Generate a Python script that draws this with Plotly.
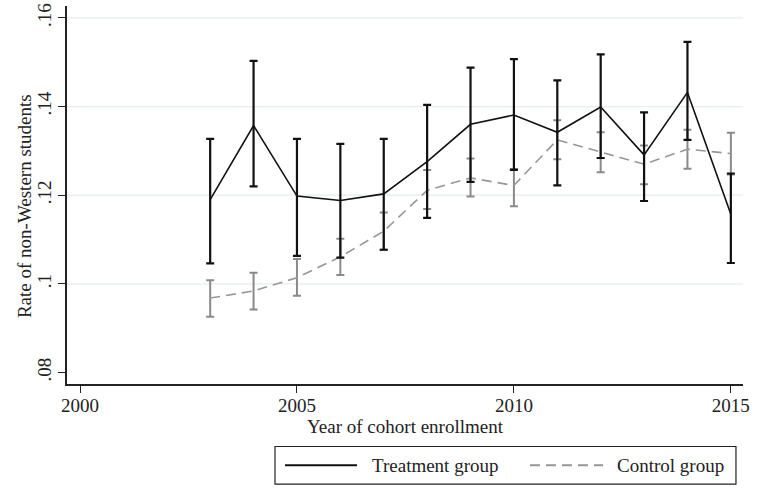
import plotly.graph_objects as go

years = [2003, 2004, 2005, 2006, 2007, 2008, 2009, 2010, 2011, 2012, 2013, 2014, 2015]

treat_mean = [0.1190, 0.1357, 0.1198, 0.1188, 0.1203, 0.1276, 0.1360, 0.1381, 0.1342, 0.1399, 0.1291, 0.1432, 0.1157]
treat_hi   = [0.1327, 0.1503, 0.1327, 0.1316, 0.1327, 0.1404, 0.1488, 0.1507, 0.1459, 0.1518, 0.1387, 0.1546, 0.1249]
treat_lo   = [0.1046, 0.1220, 0.1063, 0.1059, 0.1077, 0.1149, 0.1230, 0.1257, 0.1222, 0.1284, 0.1187, 0.1325, 0.1047]

ctrl_mean = [0.0968, 0.0984, 0.1014, 0.1061, 0.1119, 0.1211, 0.1239, 0.1222, 0.1325, 0.1297, 0.1270, 0.1304, 0.1294]
ctrl_hi   = [0.1008, 0.1025, 0.1056, 0.1102, 0.1161, 0.1257, 0.1283, 0.1259, 0.1369, 0.1342, 0.1312, 0.1348, 0.1341]
ctrl_lo   = [0.0926, 0.0942, 0.0973, 0.1020, 0.1077, 0.1169, 0.1197, 0.1175, 0.1281, 0.1252, 0.1225, 0.1260, 0.1247]

y_ticks = [0.08, 0.10, 0.12, 0.14, 0.16]
y_ticktext = [".08", ".1", ".12", ".14", ".16"]
grid_vals = [0.10, 0.12, 0.14, 0.16]
x_ticks = [2000, 2005, 2010, 2015]

FONT = "Liberation Serif"
GREY = "#8a8a8a"

fig = go.Figure()

fig.add_trace(go.Scatter(
    x=years, y=ctrl_mean, mode="lines", name="Control group",
    line=dict(color="#979797", width=1.6, dash="10px,6px"),
    error_y=dict(type="data", symmetric=False,
                 array=[h - m for h, m in zip(ctrl_hi, ctrl_mean)],
                 arrayminus=[m - l for m, l in zip(ctrl_mean, ctrl_lo)],
                 color=GREY, thickness=2, width=4),
    showlegend=False,
))

fig.add_trace(go.Scatter(
    x=years, y=treat_mean, mode="lines", name="Treatment group",
    line=dict(color="#111111", width=1.6),
    error_y=dict(type="data", symmetric=False,
                 array=[h - m for h, m in zip(treat_hi, treat_mean)],
                 arrayminus=[m - l for m, l in zip(treat_mean, treat_lo)],
                 color="#111111", thickness=2.2, width=4),
    showlegend=False,
))

shapes = []
for g in grid_vals:
    shapes.append(dict(type="line", xref="paper", yref="y", x0=0, x1=1, y0=g, y1=g,
                       line=dict(color="#e6eded", width=1.3), layer="below"))

# legend box (paper coordinates, below the plot)
shapes.append(dict(type="rect", xref="paper", yref="paper", x0=0.3077, x1=0.9896,
                   y0=-0.2651, y1=-0.1654, line=dict(color="#222222", width=1.2),
                   fillcolor="white"))
shapes.append(dict(type="line", xref="paper", yref="paper", x0=0.3225, x1=0.429,
                   y0=-0.2152, y1=-0.2152, line=dict(color="#111111", width=2)))
shapes.append(dict(type="line", xref="paper", yref="paper", x0=0.6849, x1=0.7929,
                   y0=-0.2152, y1=-0.2152, line=dict(color="#979797", width=2, dash="10px,6px")))

annotations = [
    dict(text="Treatment group", xref="paper", yref="paper", x=0.4482, y=-0.2152,
         xanchor="left", yanchor="middle", showarrow=False,
         font=dict(family=FONT, size=19, color="#222222")),
    dict(text="Control group", xref="paper", yref="paper", x=0.8107, y=-0.2152,
         xanchor="left", yanchor="middle", showarrow=False,
         font=dict(family=FONT, size=19, color="#222222")),
    dict(text="Rate of non-Western students", xref="paper", yref="paper",
         x=-0.0625, y=0.47, xanchor="center", yanchor="middle", textangle=-90,
         showarrow=False, font=dict(family=FONT, size=19, color="#222222")),
]

fig.update_layout(
    width=759, height=492,
    margin=dict(l=67, r=16, t=3, b=108),
    paper_bgcolor="white", plot_bgcolor="white",
    font=dict(family=FONT, size=19, color="#222222"),
    shapes=shapes, annotations=annotations,
    showlegend=False,
)

fig.update_xaxes(
    range=[1999.70, 2015.28], tickvals=x_ticks, ticks="outside", ticklen=7,
    tickwidth=1.3, tickcolor="#222222", showline=True, linecolor="#222222", linewidth=1.5,
    showgrid=False, zeroline=False, ticklabelstandoff=-4,
    title=dict(text="Year of cohort enrollment", standoff=2, font=dict(size=19)),
    tickfont=dict(size=19),
)
fig.update_yaxes(
    range=[0.0774, 0.1627], tickvals=y_ticks, ticktext=y_ticktext, tickangle=-90,
    ticks="outside", ticklen=7, tickwidth=1.3, tickcolor="#222222",
    showline=True, linecolor="#222222", linewidth=1.5,
    showgrid=False, zeroline=False,
    tickfont=dict(size=19),
)

fig.write_html("out.html")
